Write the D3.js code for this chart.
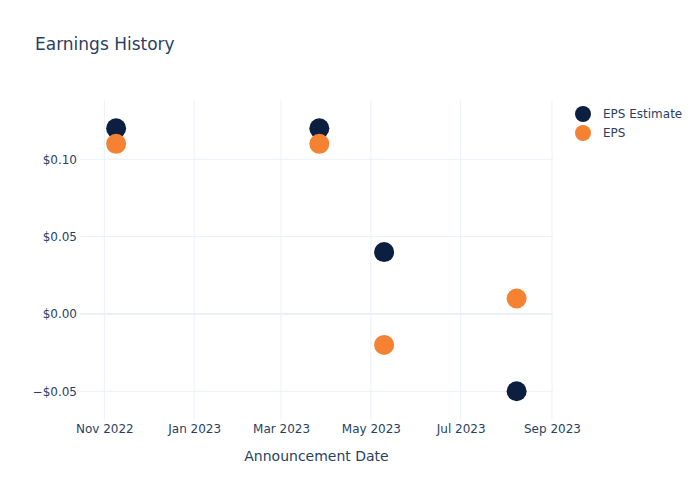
<!DOCTYPE html>
<html><head><meta charset="utf-8">
<script src="https://cdn.jsdelivr.net/npm/d3@7"></script>
<style>body{margin:0;background:#fff}svg{font-family:"DejaVu Sans",sans-serif}</style>
</head><body><svg id="c" width="700" height="500"></svg>
<script>
const dates = ["2022-11-09","2023-03-27","2023-05-10","2023-08-08"];
const epsEstimate = [0.12, 0.12, 0.04, -0.05];
const eps = [0.11, 0.11, -0.02, 0.01];
const seriesNames = ["EPS Estimate","EPS"];
const seriesColors = ["#0c1f40","#f58232"];
const yTicks = [-0.05, 0, 0.05, 0.10];
const xTickDates = ["2022-11-01","2023-01-01","2023-03-01","2023-05-01","2023-07-01","2023-09-01"];

const svg = d3.select("#c");
const parse = d3.utcParse("%Y-%m-%d");
const L=80, R=553, T=100, B=420;
const x = d3.scaleUtc().domain([parse("2022-10-15").getTime()+16*3600e3*0.7, parse("2023-09-01").getTime()+0.7*86400e3]).range([L,R]);
const y = d3.scaleLinear().domain([-0.06856, 0.13834]).range([B,T]);
const txt = "#2a3f5f", grid = "#ebf0f8";
const ff = "'DejaVu Sans',sans-serif";

svg.append("g").selectAll("line").data(xTickDates).join("line")
  .attr("x1",d=>x(parse(d))).attr("x2",d=>x(parse(d))).attr("y1",T).attr("y2",B)
  .attr("stroke",grid).attr("stroke-width",1);
svg.append("g").selectAll("line").data(yTicks).join("line")
  .attr("x1",L).attr("x2",R).attr("y1",d=>y(d)).attr("y2",d=>y(d))
  .attr("stroke",grid).attr("stroke-width",d=>d===0?2:1);

const fmt = d => (d<0?"\u2212":"")+"$"+Math.abs(d).toFixed(2);
const ya = svg.append("g").attr("transform",`translate(${L},0)`)
  .call(d3.axisLeft(y).tickValues(yTicks).tickFormat(fmt).tickSize(0).tickPadding(3));
ya.select(".domain").remove();
ya.selectAll("text").attr("fill",txt).attr("font-size",12).attr("font-family",ff);
const xa = svg.append("g").attr("transform",`translate(0,${B})`)
  .call(d3.axisBottom(x).tickValues(xTickDates.map(parse)).tickFormat(d3.utcFormat("%b %Y")).tickSize(0).tickPadding(4));
xa.select(".domain").remove();
xa.selectAll("text").attr("fill",txt).attr("font-size",12).attr("font-family",ff);

const series = [epsEstimate, eps];
series.forEach((vals,i)=>{
  svg.append("g").selectAll("circle").data(vals).join("circle")
    .attr("cx",(d,j)=>x(parse(dates[j]))).attr("cy",d=>y(d)).attr("r",10)
    .attr("fill",seriesColors[i]);
});

svg.append("text").attr("x",35).attr("y",50).attr("fill",txt).attr("font-size",17).attr("font-family",ff).text("Earnings History");
svg.append("text").attr("x",(L+R)/2).attr("y",461).attr("text-anchor","middle").attr("fill",txt).attr("font-size",14).attr("font-family",ff).text("Announcement Date");

const lg = svg.append("g");
seriesNames.forEach((n,i)=>{
  lg.append("circle").attr("cx",583).attr("cy",114+i*19).attr("r",8).attr("fill",seriesColors[i]);
  lg.append("text").attr("x",603).attr("y",118+i*19).attr("fill",txt).attr("font-size",12).attr("font-family",ff).text(n);
});
</script></body></html>
